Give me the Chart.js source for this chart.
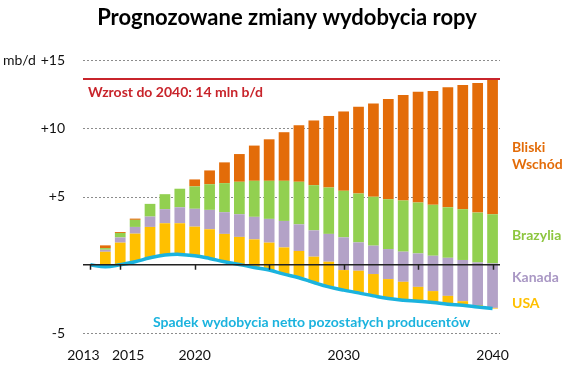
<!DOCTYPE html>
<html lang="pl">
<head>
    <meta charset="UTF-8">
    <title>Prognozowane zmiany wydobycia ropy</title>
    <script src="https://cdn.jsdelivr.net/npm/chart.js"></script>
    <style>
        html, body { margin: 0; padding: 0; background: #fff; }
        .wrap { width: 570px; height: 371px; }
    </style>
</head>
<body>
    <div class="wrap"><canvas id="oilChart" width="570" height="371"></canvas></div>
    <script>
        // lata prognozy
        const years = ['2013','2014','2015','2016','2017','2018','2019','2020','2021','2022','2023','2024','2025','2026',
                       '2027','2028','2029','2030','2031','2032','2033','2034','2035','2036','2037','2038','2039','2040'];
        const shownYears = ['2013', '2015', '2020', '2030', '2040'];
        const tickYears = ['2013', '2015', '2020', '2025', '2030', '2035', '2040'];
        const yTicks = [15, 10, 5, 0, -5];

        // spadek wydobycia netto pozostałych producentów (mb/d) - tu zaczynają się słupki
        const otherNet = [0, -0.15, 0, 0.22, 0.51, 0.71, 0.76, 0.66, 0.46, 0.22, 0.02, -0.2, -0.39, -0.69,
                          -0.95, -1.3, -1.62, -1.86, -2.06, -2.28, -2.48, -2.6, -2.67, -2.77, -2.89, -2.96, -3.09, -3.21];

        // przyrosty wg producenta (mb/d)
        const usa      = [0, 1.1, 1.62, 2.06, 2.26, 2.33, 2.28, 2.13, 2.14, 2.04, 2.02, 2.06, 2.01, 1.96,
                          1.96, 1.89, 1.84, 1.47, 1.62, 1.6, 1.43, 1.35, 1.05, 0.84, 0.61, 0.29, 0.13, 0.05];
        const kanada   = [0, 0.15, 0.38, 0.49, 0.76, 1.03, 1.17, 1.31, 1.42, 1.59, 1.66, 1.65, 1.74, 1.94,
                          1.95, 1.93, 2.04, 2.4, 2.08, 2.08, 2.2, 2.21, 2.45, 2.59, 2.79, 3.02, 3.13, 3.26];
        const brazylia = [0, 0.12, 0.33, 0.52, 0.93, 1.1, 1.36, 1.64, 1.88, 2.13, 2.38, 2.64, 2.79, 2.94,
                          3.12, 3.31, 3.4, 3.41, 3.58, 3.58, 3.65, 3.75, 3.73, 3.73, 3.7, 3.72, 3.65, 3.6];
        const bliskiWschod = [0, 0.2, 0.07, 0.09, 0, 0, 0, 0.51, 1.01, 1.52, 2.03, 2.58, 3.04, 3.56,
                          4.14, 4.74, 5.24, 5.81, 6.35, 6.84, 7.35, 7.72, 8.11, 8.33, 8.8, 9.09, 9.49, 9.95];

        const growthTo2040 = 13.6;

        const FONT = 'Lato, "Open Sans", sans-serif';

        // słupki pływające: każdy segment od końca poprzedniego
        function floating(seriesList) {
            const out = [];
            const running = otherNet.slice();
            seriesList.forEach(s => {
                out.push(s.map((v, i) => {
                    const a = running[i];
                    running[i] = a + v;
                    return [a, a + v];
                }));
            });
            return out;
        }
        const [usaBars, kanadaBars, brazyliaBars, bwBars] = floating([usa, kanada, brazylia, bliskiWschod]);

        const barStyle = { grouped: false, categoryPercentage: 1, barPercentage: 0.72, borderWidth: 0, order: 1 };

        // przesunięcia podpisów lat jak w oryginale
        const labelShift = { '2013': -7, '2015': 8 };

        const extras = {
            id: 'extras',
            beforeDatasetsDraw(chart) {
                const { ctx, chartArea, scales } = chart;
                ctx.save();
                ctx.strokeStyle = '#8C8C8C';
                ctx.lineWidth = 1;
                ctx.setLineDash([2, 2]);
                yTicks.filter(v => v !== 0).forEach(v => {
                    const py = Math.round(scales.y.getPixelForValue(v)) + 0.5;
                    ctx.beginPath();
                    ctx.moveTo(chartArea.left, py);
                    ctx.lineTo(chartArea.right, py);
                    ctx.stroke();
                });
                ctx.restore();
            },
            afterDatasetsDraw(chart) {
                const { ctx, chartArea, scales } = chart;
                const y = scales.y, x = scales.x;
                const y0 = y.getPixelForValue(0);
                ctx.save();
                // tytuł
                ctx.fillStyle = '#000';
                ctx.font = 'bold 22px ' + FONT;
                ctx.textAlign = 'center';
                ctx.textBaseline = 'middle';
                ctx.fillText('Prognozowane zmiany wydobycia ropy', 287, 18);

                // oś zero
                ctx.strokeStyle = '#222';
                ctx.lineWidth = 1.5;
                ctx.beginPath();
                ctx.moveTo(chartArea.left, y0);
                ctx.lineTo(chartArea.right, y0);
                ctx.stroke();
                tickYears.forEach(t => {
                    const px = Math.round(x.getPixelForValue(years.indexOf(t))) + 0.5;
                    ctx.beginPath();
                    ctx.moveTo(px, y0);
                    ctx.lineTo(px, y0 + 5);
                    ctx.stroke();
                });

                // podpisy lat
                ctx.font = '14px ' + FONT;
                ctx.fillStyle = '#111';
                shownYears.forEach(t => {
                    const px = x.getPixelForValue(years.indexOf(t)) + (labelShift[t] || 0);
                    ctx.fillText(t, px, chartArea.bottom + 22);
                });

                // linia wzrostu
                const yr = y.getPixelForValue(growthTo2040);
                ctx.strokeStyle = '#C8242B';
                ctx.lineWidth = 2;
                ctx.beginPath();
                ctx.moveTo(chartArea.left, yr);
                ctx.lineTo(chartArea.right, yr);
                ctx.stroke();

                ctx.textAlign = 'left';
                ctx.font = 'bold 14px ' + FONT;
                ctx.fillStyle = '#C8242B';
                ctx.fillText('Wzrost do 2040: 14 mln b/d', 88, 92);

                ctx.fillStyle = '#1BB3DE';
                ctx.fillText('Spadek wydobycia netto pozostałych producentów', 153, 322);

                ctx.fillStyle = '#E36C09';
                ctx.fillText('Bliski', 512, 147);
                ctx.fillText('Wschód', 512, 164);
                ctx.fillStyle = '#8DC63F';
                ctx.fillText('Brazylia', 512, 235);
                ctx.fillStyle = '#A997C4';
                ctx.fillText('Kanada', 512, 277);
                ctx.fillStyle = '#FFC000';
                ctx.fillText('USA', 512, 303);

                ctx.font = '14px ' + FONT;
                ctx.fillStyle = '#111';
                ctx.fillText('mb/d', 3, y.getPixelForValue(15));
                ctx.restore();
            }
        };

        new Chart(document.getElementById('oilChart'), {
            data: {
                labels: years,
                datasets: [
                    {
                        type: 'line',
                        label: 'Pozostali producenci',
                        data: otherNet,
                        borderColor: '#1BB3DE',
                        borderWidth: 3.5,
                        pointRadius: 0,
                        tension: 0.4,
                        fill: false,
                        order: 0
                    },
                    { type: 'bar', label: 'USA', data: usaBars, backgroundColor: '#FFC000', ...barStyle },
                    { type: 'bar', label: 'Kanada', data: kanadaBars, backgroundColor: '#B3A2C7', ...barStyle },
                    { type: 'bar', label: 'Brazylia', data: brazyliaBars, backgroundColor: '#92D050', ...barStyle },
                    { type: 'bar', label: 'Bliski Wschód', data: bwBars, backgroundColor: '#E36C09', ...barStyle }
                ]
            },
            options: {
                responsive: false,
                animation: false,
                layout: { padding: { left: 0, right: 70, top: 60, bottom: 0 } },
                plugins: {
                    legend: { display: false },
                    tooltip: { enabled: false },
                    title: { display: false }
                },
                scales: {
                    x: {
                        type: 'category',
                        offset: true,
                        grid: { display: false },
                        border: { display: false },
                        ticks: { display: false },
                        afterFit: s => { s.height = 38; }
                    },
                    y: {
                        min: -5,
                        max: 15,
                        grid: { display: false },
                        border: { display: false },
                        ticks: {
                            stepSize: 5,
                            padding: 10,
                            color: '#111',
                            font: { family: FONT, size: 14 },
                            callback: v => v === 0 ? '' : (v > 0 ? '+' + v : String(v))
                        },
                        afterFit: s => { s.width = 83; }
                    }
                }
            },
            plugins: [extras]
        });
    </script>
</body>
</html>
